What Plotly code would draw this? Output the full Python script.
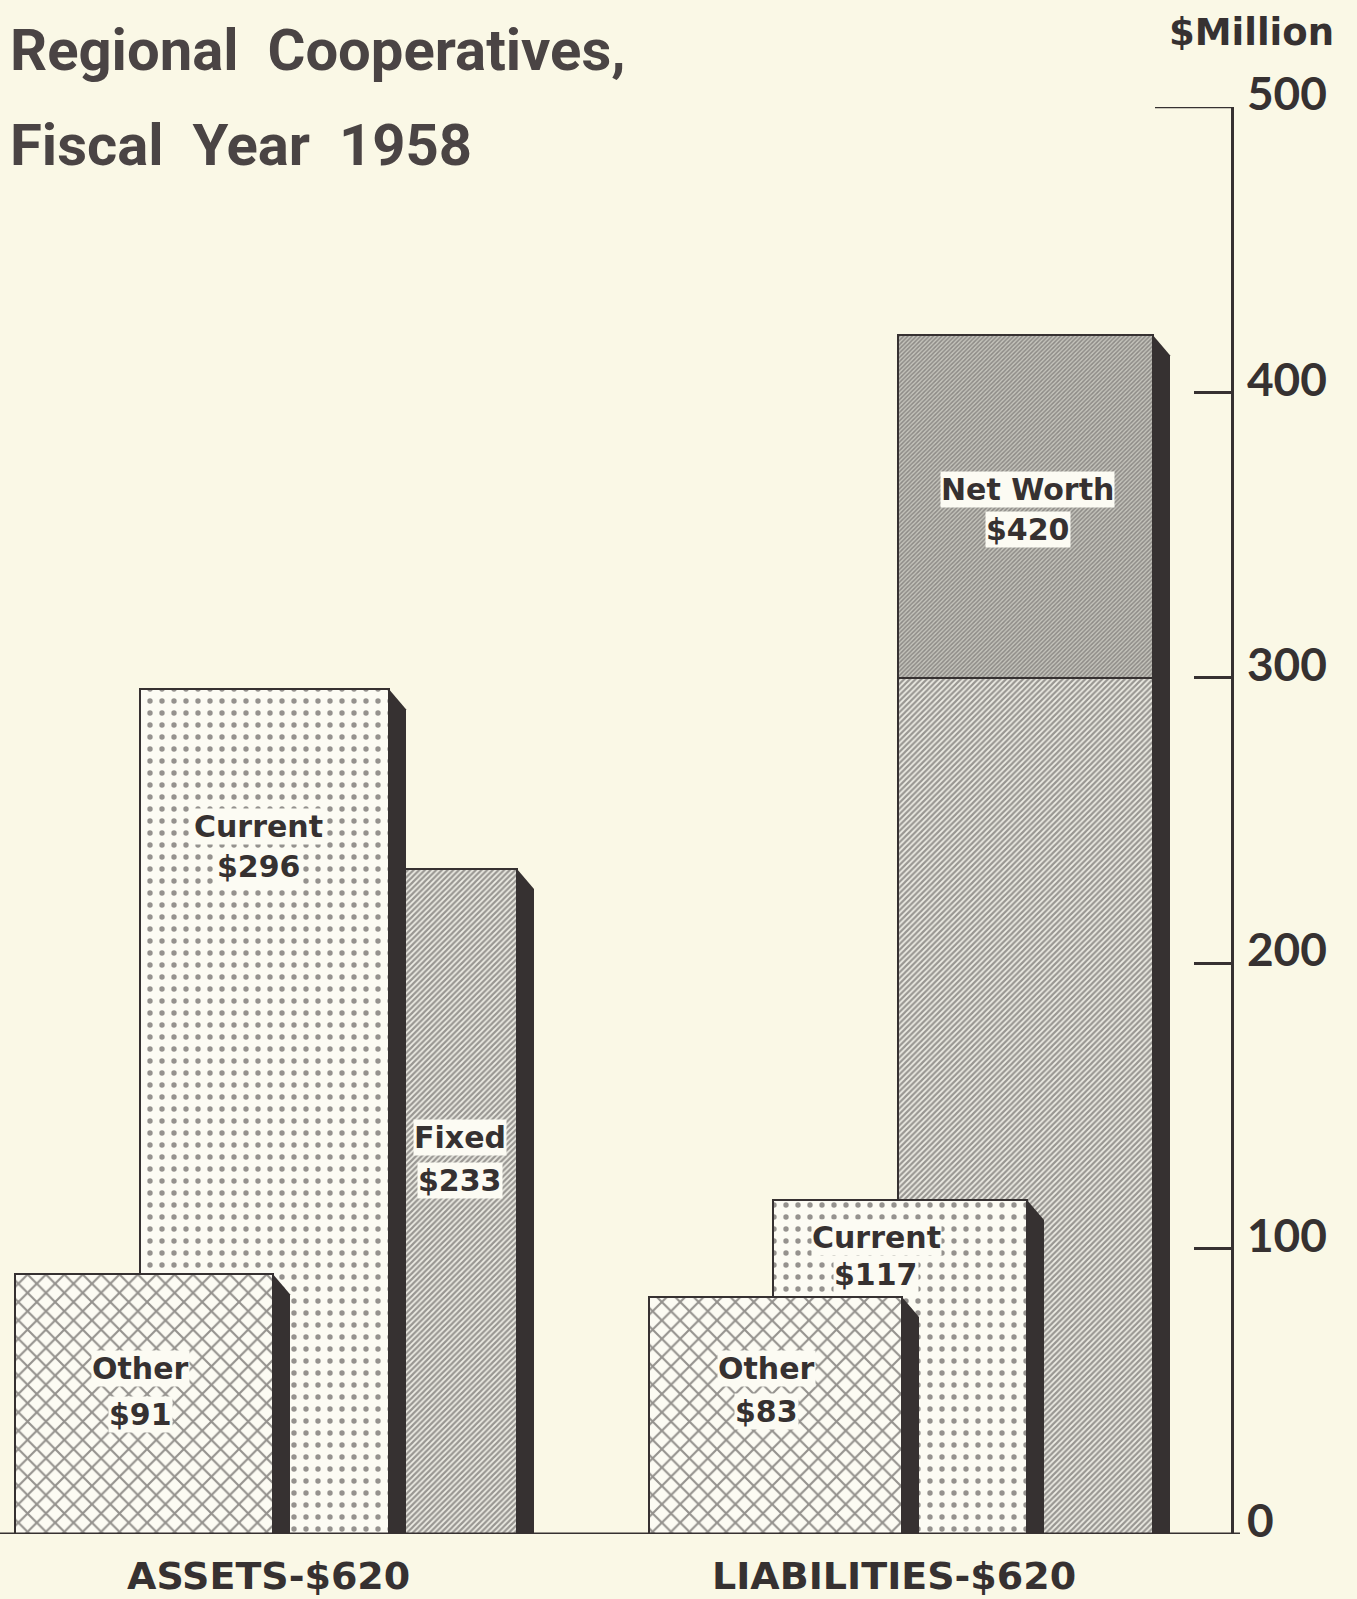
import plotly.graph_objects as go

# ---------------- data ----------------
group_names = ["ASSETS", "LIABILITIES"]
group_totals = [620, 620]
asset_categories = ["Other", "Current", "Fixed"]
asset_values = [91, 296, 233]
liability_categories = ["Other", "Current", "Net Worth"]
liability_values = [83, 117, 420]
tick_values = [0, 100, 200, 300, 400, 500]
tick_labels = ["0", "100", "200", "300", "400", "500"]
unit_label = "$Million"
title_lines = ["Regional  Cooperatives,", "Fiscal  Year  1958"]

# ---------------- layout / style (positions in pixel-like x units) ----------------
W, H = 1357, 1599
PLOT_TOP_PX, PLOT_BOTTOM_PX = 107, 1534
PLOT_H = PLOT_BOTTOM_PX - PLOT_TOP_PX
Y_MAX = 500
PX_PER_UNIT = PLOT_H / Y_MAX
AXIS_X = 1232
SIDE_W = 17
BEVEL = 20 / PX_PER_UNIT

BG = "#faf8e6"
INK = "#363131"
FACE_BG = "#fcfbf3"
LABEL_FONT = "DejaVu Sans, Lato, sans-serif"
TICK_FONT = "Lato, Open Sans, sans-serif"
TITLE_FONT = "Roboto, Liberation Sans, sans-serif"


def paper_y(py):
    return (PLOT_BOTTOM_PX - py) / PLOT_H


# face left edge / width for each bar, per group, same order as categories
asset_face_left = [15, 140, 403]
asset_face_width = [258, 249, 114]
liab_face_left = [649, 773, 898]
liab_face_width = [253, 254, 255]
# label anchor heights (data units) for the two label lines of each bar
asset_label_y = [(58, 42), (248, 234), (139, 124)]
liab_label_y = [(58, 43), (104, 91), (366, 352)]
asset_label_dx = [-4, -6, 0]
liab_label_dx = [-9, -24, 2]
NW_SHADE_FROM = 300

patterns = {
    "Other": dict(shape="x", size=13, solidity=0.3, fgcolor="#2e2a2a", bgcolor=FACE_BG),
    "Current": dict(shape=".", size=12, solidity=0.16, fgcolor="#2e2a2a", bgcolor=FACE_BG),
    "Fixed": dict(shape="/", size=4, solidity=0.55, fgcolor="#433f3f", bgcolor="#eeede5"),
    "Net Worth": dict(shape="/", size=4, solidity=0.55, fgcolor="#433f3f", bgcolor="#eeede5"),
}

fig = go.Figure()
annotations = []
side_traces = []


def add_bar(cat, val, left, width, label_y, dx):
    center = left + width / 2
    fig.add_trace(go.Bar(
        x=[center], y=[val], base=[0], width=[width],
        marker=dict(color=FACE_BG, pattern=patterns[cat],
                    line=dict(color=INK, width=2)),
        hoverinfo="skip", showlegend=False,
    ))
    if cat == "Net Worth":
        fig.add_trace(go.Bar(
            x=[center], y=[val - NW_SHADE_FROM], base=[NW_SHADE_FROM], width=[width],
            marker=dict(color="#b9b8b0",
                        pattern=dict(shape="/", size=3, solidity=0.5,
                                     fgcolor="#555151", bgcolor="#c4c3bb"),
                        line=dict(color=INK, width=2)),
            hoverinfo="skip", showlegend=False,
        ))
    xr = left + width
    side_traces.append(go.Scatter(
        x=[xr, xr, xr + SIDE_W, xr + SIDE_W, xr],
        y=[0, val, val - BEVEL, 0, 0],
        mode="lines", fill="toself", fillcolor=INK,
        line=dict(width=0, color=INK), hoverinfo="skip", showlegend=False,
    ))
    for txt, yy in zip([cat, f"${val}"], label_y):
        annotations.append(dict(
            x=center + dx, y=yy, xref="x", yref="y", text=txt, showarrow=False,
            font=dict(family=LABEL_FONT, size=30, color=INK, weight="bold"),
            bgcolor=FACE_BG, borderpad=0,
        ))


# back-to-front drawing order
for i in [2, 1, 0]:
    add_bar(asset_categories[i], asset_values[i], asset_face_left[i],
            asset_face_width[i], asset_label_y[i], asset_label_dx[i])
for i in [2, 1, 0]:
    add_bar(liability_categories[i], liability_values[i], liab_face_left[i],
            liab_face_width[i], liab_label_y[i], liab_label_dx[i])
for t in side_traces:
    fig.add_trace(t)

# group labels
group_centers = [268, 894]
for name, tot, cx in zip(group_names, group_totals, group_centers):
    annotations.append(dict(
        x=cx, y=paper_y(1576), xref="x", yref="paper", yanchor="middle",
        text=f"{name}-${tot}", showarrow=False,
        font=dict(family=LABEL_FONT, size=38, color=INK, weight="bold"),
    ))

# title
for line, py in zip(title_lines, [50, 145]):
    annotations.append(dict(
        x=8, y=paper_y(py), xref="x", yref="paper", yanchor="middle",
        xanchor="left", text=line, showarrow=False,
        font=dict(family=TITLE_FONT, size=58, color="#4a4444", weight="bold"),
    ))

# unit label
annotations.append(dict(
    x=1336, y=paper_y(33), xref="x", yref="paper", yanchor="middle",
    xanchor="right", text=unit_label, showarrow=False,
    font=dict(family=LABEL_FONT, size=37, color=INK, weight="bold"),
))

shapes = [
    dict(type="line", xref="x", yref="y", x0=0, x1=AXIS_X + 8, y0=0, y1=0,
         line=dict(color=INK, width=3)),
    dict(type="line", xref="x", yref="y", x0=1155, x1=AXIS_X, y0=Y_MAX, y1=Y_MAX,
         line=dict(color=INK, width=2.5)),
]

fig.update_layout(
    width=W, height=H,
    margin=dict(l=0, r=0, t=PLOT_TOP_PX, b=H - PLOT_BOTTOM_PX),
    paper_bgcolor=BG, plot_bgcolor=BG,
    barmode="overlay", bargap=0,
    showlegend=False,
    annotations=annotations, shapes=shapes,
    xaxis=dict(range=[0, W], visible=False, fixedrange=True),
    yaxis=dict(range=[0, Y_MAX], side="right", anchor="free", position=AXIS_X / W,
               showline=True, linecolor=INK, linewidth=2.5,
               ticks="inside", ticklen=37, tickwidth=2.5, tickcolor=INK,
               tickvals=tick_values, ticktext=tick_labels,
               ticklabelstandoff=4, ticklabelshift=-13,
               tickfont=dict(family=TICK_FONT, size=46, color=INK, weight="bold"),
               showgrid=False, zeroline=False, fixedrange=True),
)

fig.write_html("out.html", config={"displayModeBar": False},
               post_script="document.body.style.margin='0';document.body.style.background='%s';" % BG)
